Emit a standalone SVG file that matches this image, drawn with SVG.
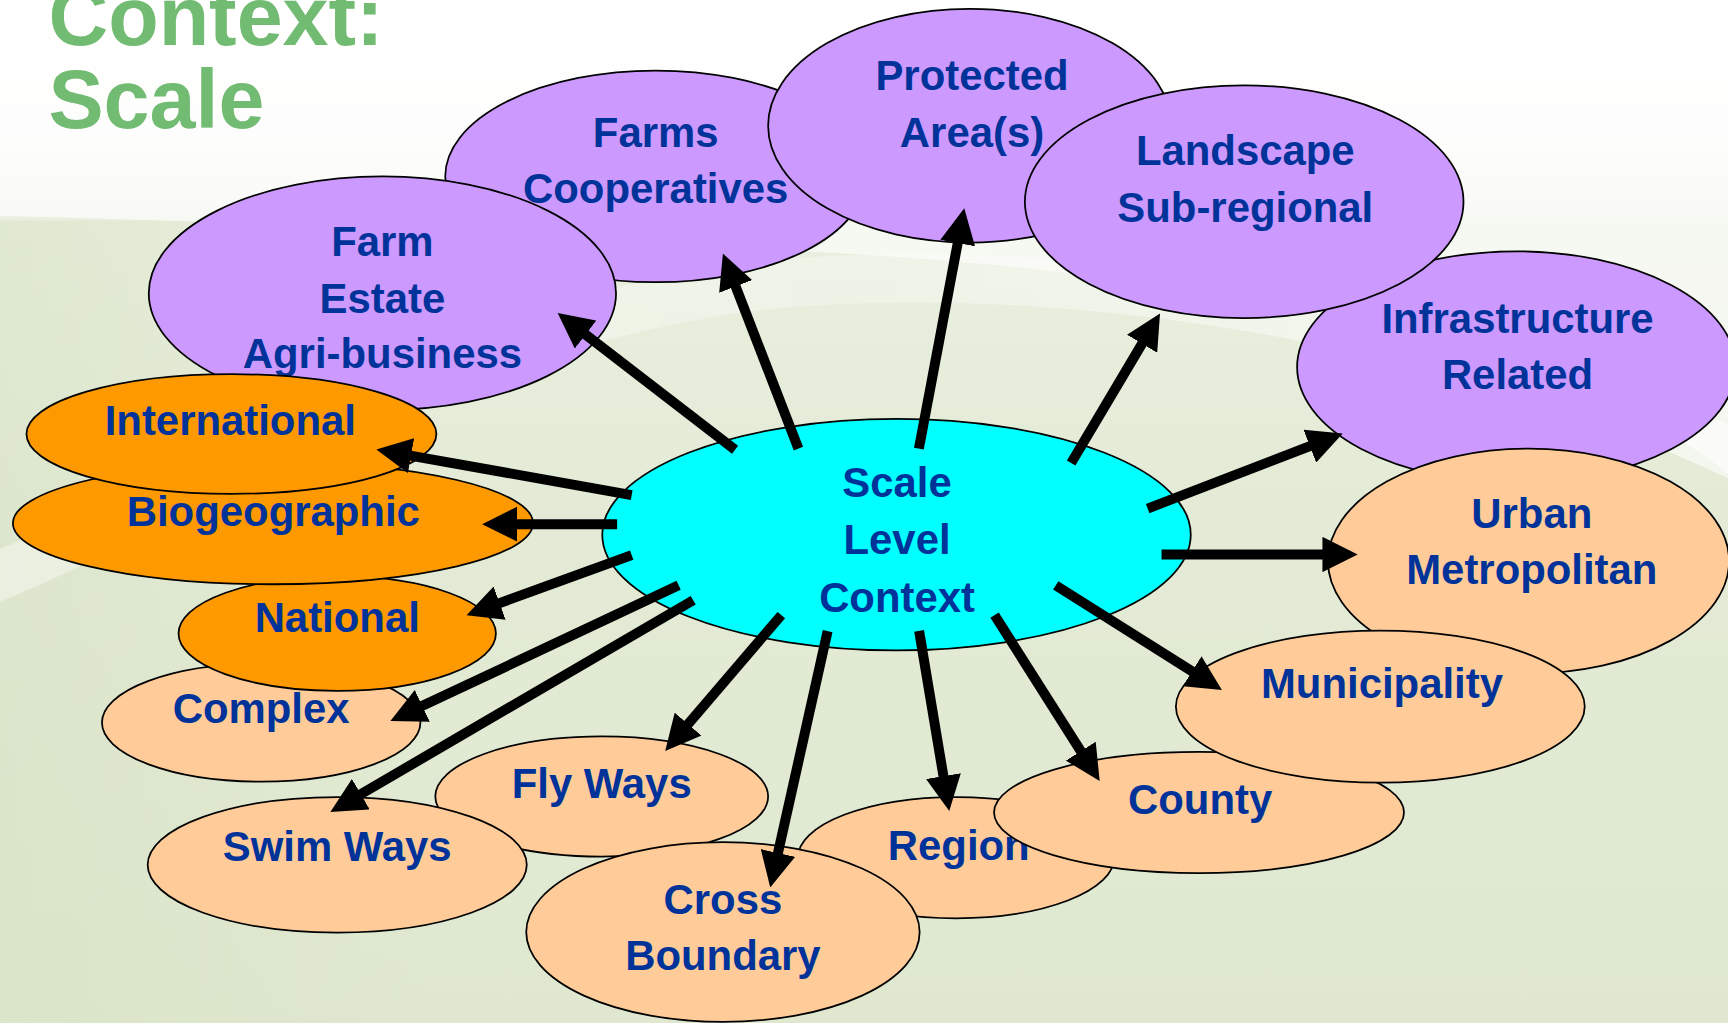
<svg xmlns="http://www.w3.org/2000/svg" width="1728" height="1023" viewBox="0 0 1728 1023">
<defs>
  <linearGradient id="bg" x1="0" y1="0" x2="0" y2="1">
    <stop offset="0" stop-color="#ffffff"/>
    <stop offset="0.13" stop-color="#fbfbf9"/>
    <stop offset="0.2" stop-color="#f2f4ee"/>
    <stop offset="0.215" stop-color="#e9efdf"/>
    <stop offset="0.5" stop-color="#e3ebd6"/>
    <stop offset="1" stop-color="#dfe8cf"/>
  </linearGradient>
  <linearGradient id="lt" x1="0" y1="0" x2="1" y2="0">
    <stop offset="0" stop-color="#d6e1c2" stop-opacity="0.45"/>
    <stop offset="0.25" stop-color="#d6e1c2" stop-opacity="0"/>
  </linearGradient>
  <linearGradient id="sw" x1="0" y1="0" x2="1" y2="0">
    <stop offset="0" stop-color="#ffffff" stop-opacity="0.4"/>
    <stop offset="0.5" stop-color="#ffffff" stop-opacity="0.3"/>
    <stop offset="1" stop-color="#ffffff" stop-opacity="0.6"/>
  </linearGradient>
  <marker id="ah" markerUnits="userSpaceOnUse" markerWidth="32" markerHeight="32" refX="2" refY="16" orient="auto">
    <path d="M0,0 L32,16 L0,32 Z" fill="#000"/>
  </marker>
</defs>
<style>
  .node ellipse{stroke:#000;stroke-width:1.6}
  .pu{fill:#cc99ff}
  .or{fill:#ff9900}
  .pe{fill:#ffcc99}
  .cy{fill:#00ffff}
  .t{font-family:"Liberation Sans",Arial,sans-serif;font-weight:bold;font-size:38px;fill:#003399;text-anchor:middle}
  .title{font-family:"Liberation Sans",Arial,sans-serif;font-weight:bold;font-size:75px;fill:#72bb72}
  #connectors line{stroke:#000;stroke-width:9;marker-end:url(#ah)}
</style>
<rect x="0" y="0" width="1728" height="1023" fill="url(#bg)"/>
<g transform="scale(1.10204 1.10237)">
  <g id="background">
    <path d="M0,200 H1568 V928 H0 Z" fill="url(#lt)"/>
    <path d="M0,0 H1568 V430 C1450,330 1150,255 800,232 C500,214 200,200 0,196 Z" fill="#ffffff" opacity="0.6"/>
    <path d="M-20,530 C150,465 400,290 700,258 C1000,232 1350,300 1600,425" fill="none" stroke="url(#sw)" stroke-width="44"/>
  </g>
  <g id="title">
    <text class="title" x="44" y="41">Context:</text>
    <text class="title" x="44" y="116">Scale</text>
  </g>
  <g id="node-farms-cooperatives" class="node">
    <ellipse class="pu" cx="595" cy="160" rx="191" ry="96"/>
    <text class="t" x="595" y="133">Farms</text>
    <text class="t" x="595" y="184">Cooperatives</text>
  </g>
  <g id="node-protected-areas" class="node">
    <ellipse class="pu" cx="880" cy="114" rx="183" ry="106"/>
    <text class="t" x="882" y="82">Protected</text>
    <text class="t" x="882" y="133">Area(s)</text>
  </g>
  <g id="node-infrastructure-related" class="node">
    <ellipse class="pu" cx="1376" cy="333" rx="199" ry="105"/>
    <text class="t" x="1377" y="302">Infrastructure</text>
    <text class="t" x="1377" y="353">Related</text>
  </g>
  <g id="node-landscape" class="node">
    <ellipse class="pu" cx="1129" cy="183" rx="199" ry="105.5"/>
    <text class="t" x="1130" y="150">Landscape</text>
    <text class="t" x="1130" y="201">Sub-regional</text>
  </g>
  <g id="node-farm-estate" class="node">
    <ellipse class="pu" cx="347" cy="266" rx="212" ry="106"/>
    <text class="t" x="347" y="232">Farm</text>
    <text class="t" x="347" y="284">Estate</text>
    <text class="t" x="347" y="334">Agri-business</text>
  </g>
  <g id="node-urban-metropolitan" class="node">
    <ellipse class="pe" cx="1387" cy="509" rx="182" ry="102"/>
    <text class="t" x="1390" y="479">Urban</text>
    <text class="t" x="1390" y="530">Metropolitan</text>
  </g>
  <g id="node-region" class="node">
    <ellipse class="pe" cx="867.5" cy="778" rx="143.5" ry="55"/>
    <text class="t" x="870" y="780">Region</text>
  </g>
  <g id="node-county" class="node">
    <ellipse class="pe" cx="1088" cy="737" rx="186" ry="55"/>
    <text class="t" x="1089" y="738">County</text>
  </g>
  <g id="node-municipality" class="node">
    <ellipse class="pe" cx="1252.5" cy="641" rx="185.5" ry="69"/>
    <text class="t" x="1254" y="633">Municipality</text>
  </g>
  <g id="node-fly-ways" class="node">
    <ellipse class="pe" cx="546" cy="722.5" rx="151" ry="54.5"/>
    <text class="t" x="546" y="724">Fly Ways</text>
  </g>
  <g id="node-swim-ways" class="node">
    <ellipse class="pe" cx="306" cy="784.5" rx="172" ry="61.5"/>
    <text class="t" x="306" y="781">Swim Ways</text>
  </g>
  <g id="node-cross-boundary" class="node">
    <ellipse class="pe" cx="656" cy="845.5" rx="178.5" ry="81.5"/>
    <text class="t" x="656" y="829">Cross</text>
    <text class="t" x="656" y="880">Boundary</text>
  </g>
  <g id="node-complex" class="node">
    <ellipse class="pe" cx="237" cy="655.5" rx="144.5" ry="53.5"/>
    <text class="t" x="237" y="656">Complex</text>
  </g>
  <g id="node-national" class="node">
    <ellipse class="or" cx="306" cy="574.7" rx="144" ry="52"/>
    <text class="t" x="306" y="573">National</text>
  </g>
  <g id="node-biogeographic" class="node">
    <ellipse class="or" cx="247.7" cy="474.6" rx="236" ry="55.4"/>
    <text class="t" x="248" y="477">Biogeographic</text>
  </g>
  <g id="node-international" class="node">
    <ellipse class="or" cx="210" cy="393.7" rx="186" ry="54.3"/>
    <text class="t" x="209" y="395">International</text>
  </g>
  <g id="node-scale-level-context" class="node">
    <ellipse class="cy" cx="813.5" cy="485" rx="267" ry="105"/>
    <text class="t" x="814" y="451">Scale</text>
    <text class="t" x="814" y="503">Level</text>
    <text class="t" x="814" y="555">Context</text>
  </g>
  <g id="connectors">
    <line x1="667" y1="408" x2="529.8" y2="302.3"/>
    <line x1="724.5" y1="407" x2="666.8" y2="258"/>
    <line x1="833.8" y1="407" x2="869.4" y2="218.5"/>
    <line x1="972" y1="420" x2="1037.3" y2="310.1"/>
    <line x1="1041.4" y1="461.3" x2="1190.4" y2="404"/>
    <line x1="1054" y1="503" x2="1202" y2="503"/>
    <line x1="958" y1="531" x2="1083.4" y2="610"/>
    <line x1="902.5" y1="558" x2="981.8" y2="683.1"/>
    <line x1="834" y1="572.3" x2="856.4" y2="706"/>
    <line x1="751" y1="572.5" x2="705.5" y2="775.7"/>
    <line x1="709" y1="558" x2="623.1" y2="658.4"/>
    <line x1="629" y1="544.5" x2="325.7" y2="721.4"/>
    <line x1="615.8" y1="531" x2="381.4" y2="641.2"/>
    <line x1="573.2" y1="503.6" x2="451.5" y2="547.8"/>
    <line x1="560" y1="475.5" x2="467.5" y2="475.5"/>
    <line x1="573.2" y1="449.2" x2="371" y2="413"/>
  </g>
</g>
</svg>
